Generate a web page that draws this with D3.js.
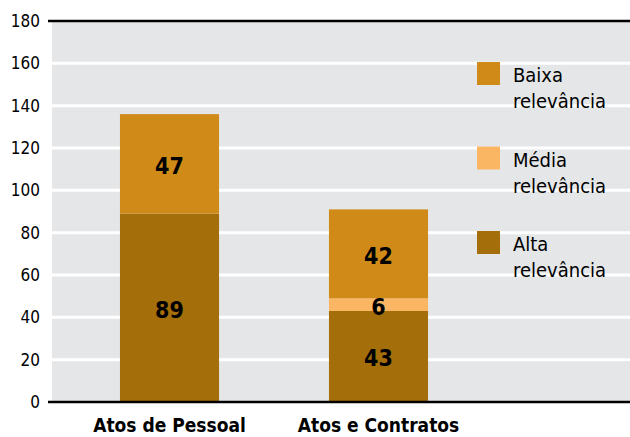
<!DOCTYPE html>
<html>
<head>
<meta charset="utf-8">
<script src="https://cdn.jsdelivr.net/npm/d3@7"></script>
<style>
  body { margin: 0; background: #fff; }
  text { font-family: "Liberation Sans Narrow", "Arial Narrow", "DejaVu Sans Condensed", sans-serif; }
</style>
</head>
<body>
<div id="chart"></div>
<script>
const categories = ['Atos de Pessoal', 'Atos e Contratos'];
const seriesNames = ['Alta relevância', 'Média relevância', 'Baixa relevância'];
const alta = [89, 43];
const media = [0, 6];
const baixa = [47, 42];
const yTicks = [0, 20, 40, 60, 80, 100, 120, 140, 160, 180];

const COLORS = {
  'Alta relevância': '#a46e0a',
  'Média relevância': '#fbb664',
  'Baixa relevância': '#d08a17',
};

const width = 630, height = 437;
const plotLeft = 52, plotRight = 630;

const rows = categories.map((c, i) => ({
  cat: c,
  'Alta relevância': alta[i],
  'Média relevância': media[i],
  'Baixa relevância': baixa[i],
}));

const stack = d3.stack().keys(seriesNames)(rows);

const x = d3.scaleBand()
  .domain(categories)
  .range([65, 483])
  .paddingInner(0.526)
  .paddingOuter(0.263);

const y = d3.scaleLinear().domain([0, 180]).range([402, 21]);

const svg = d3.select('#chart').append('svg')
  .attr('width', width)
  .attr('height', height);

// plot background
svg.append('rect')
  .attr('x', plotLeft)
  .attr('y', y(180))
  .attr('width', plotRight - plotLeft)
  .attr('height', y(0) - y(180))
  .attr('fill', '#e5e6e8');

// white gridlines
svg.append('g')
  .selectAll('line')
  .data(yTicks.filter(d => d > 0 && d < 180))
  .join('line')
  .attr('x1', plotLeft)
  .attr('x2', plotRight)
  .attr('y1', d => y(d))
  .attr('y2', d => y(d))
  .attr('stroke', '#fff')
  .attr('stroke-width', 3);

// bars
svg.append('g')
  .selectAll('g')
  .data(stack)
  .join('g')
  .attr('fill', d => COLORS[d.key])
  .selectAll('rect')
  .data(d => d)
  .join('rect')
  .attr('x', d => x(d.data.cat))
  .attr('y', d => y(d[1]))
  .attr('width', x.bandwidth())
  .attr('height', d => y(d[0]) - y(d[1]));

// value labels
svg.append('g')
  .selectAll('g')
  .data(stack)
  .join('g')
  .selectAll('text')
  .data(d => d.filter(s => s[1] - s[0] > 0))
  .join('text')
  .attr('x', d => x(d.data.cat) + x.bandwidth() / 2)
  .attr('y', d => y((d[0] + d[1]) / 2) + 2)
  .attr('text-anchor', 'middle')
  .attr('dominant-baseline', 'central')
  .attr('font-size', 23)
  .attr('font-weight', 'bold')
  .attr('fill', '#000')
  .text(d => d[1] - d[0]);

// y axis (labels only, no tick marks)
const yAxis = svg.append('g')
  .attr('transform', `translate(${plotLeft - 3},0)`)
  .call(d3.axisLeft(y).tickValues(yTicks).tickSize(0).tickPadding(9));
yAxis.select('.domain').remove();
yAxis.selectAll('line').remove();
yAxis.selectAll('text')
  .attr('font-size', 17)
  .attr('fill', '#000')
  .style('font-family', '"Liberation Sans Narrow", "Arial Narrow", "DejaVu Sans Condensed", sans-serif');

// top and bottom black lines
svg.append('line')
  .attr('x1', plotLeft - 4).attr('x2', plotRight)
  .attr('y1', y(180)).attr('y2', y(180))
  .attr('stroke', '#000').attr('stroke-width', 2.5);
svg.append('line')
  .attr('x1', plotLeft - 4).attr('x2', plotRight)
  .attr('y1', y(0)).attr('y2', y(0))
  .attr('stroke', '#000').attr('stroke-width', 2.5);

// x axis labels
svg.append('g')
  .selectAll('text')
  .data(categories)
  .join('text')
  .attr('x', d => x(d) + x.bandwidth() / 2)
  .attr('y', 432)
  .attr('text-anchor', 'middle')
  .attr('font-size', 19)
  .attr('font-weight', 'bold')
  .attr('fill', '#000')
  .text(d => d);

// legend
const legendItems = ['Baixa relevância', 'Média relevância', 'Alta relevância'];
const legend = svg.append('g')
  .selectAll('g')
  .data(legendItems)
  .join('g')
  .attr('transform', (d, i) => `translate(477,${62 + i * 84.5})`);

legend.append('rect')
  .attr('width', 23)
  .attr('height', 23)
  .attr('fill', d => COLORS[d]);

legend.append('text')
  .attr('x', 36)
  .attr('y', 20)
  .attr('font-size', 20)
  .attr('fill', '#000')
  .selectAll('tspan')
  .data(d => d.split(' '))
  .join('tspan')
  .attr('x', 36)
  .attr('dy', (d, i) => i === 0 ? 0 : 26)
  .text(d => d);
</script>
</body>
</html>
